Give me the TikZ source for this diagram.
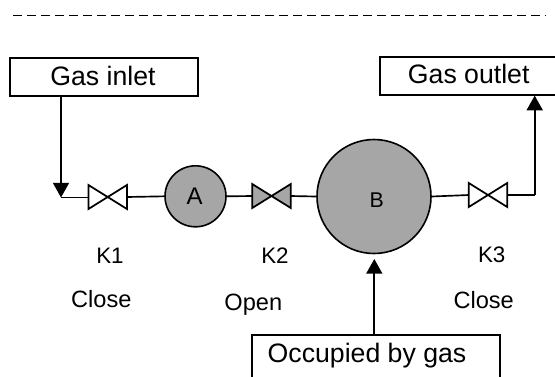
\documentclass[tikz,border=0pt]{standalone}
\usepackage{fontspec}
\setmainfont{Liberation Sans}
\usetikzlibrary{arrows.meta}
\definecolor{fillgray}{HTML}{A6A6A6}
\tikzset{
  x=0.75pt,y=-0.75pt,
  tagbox/.style={draw=black,line width=1.2pt,fill=white,inner sep=0pt,anchor=north west},
  vessel/.style={circle,draw=black,line width=1.2pt,fill=fillgray,inner sep=0pt},
  lab/.style={inner sep=0pt,anchor=base,text=black},
  biglab/.style={lab,font=\fontsize{20}{24}\selectfont},
  keylab/.style={lab,font=\fontsize{16.8}{20}\selectfont},
  statelab/.style={lab,font=\fontsize{17.7}{21}\selectfont},
  valvebox/.style={minimum width=28.9pt,minimum height=18pt,inner sep=0pt,outer sep=0pt},
  valvepart/.style={draw=black,line width=1.3pt,line join=miter},
  pipe/.style={draw=black,line width=1.25pt},
  tip/.style={-{Triangle[length=11pt,width=12pt]}}
}
\begin{document}
\begin{tikzpicture}
\useasboundingbox (0,0) rectangle (555,376);
\clip (0,0) rectangle (555,376);
\coordinate (ds) at (13.3,15.4);
\coordinate (de) at (546,15.4);
\draw[line width=1pt,dash pattern=on 6.2pt off 4.3pt] (ds) -- (de);
\node[tagbox,minimum width=141.3pt,minimum height=28.5pt] (inlet) at (9,57.2) {};
\node[biglab] (inlettext) at (103,85) {Gas inlet};
\node[tagbox,minimum width=134.5pt,minimum height=28.5pt] (outlet) at (379,56) {};
\node[biglab] (outlettext) at (468.7,83.3) {Gas outlet};
\node[tagbox,minimum width=186pt,minimum height=42pt] (occ) at (251,334) {};
\node[biglab] (occtext) at (367,362.7) {Occupied by gas};
\node[vessel,minimum size=45.75pt] (A) at (195.5,196.3) {};
\node[lab,font=\fontsize{18}{21}\selectfont] (Atext) at (194.7,204) {A};
\node[vessel,minimum size=85.5pt] (B) at (374,196.5) {};
\node[lab,font=\fontsize{16}{19}\selectfont] (Btext) at (376.7,207.3) {B};
\node[valvebox] (v1) at (107.7,197) {};
\node[valvebox] (v2) at (271.5,196) {};
\node[valvebox] (v3) at (488,195) {};
\coordinate (j1) at (61,197.5);
\coordinate (j3) at (534.7,195);
\foreach \v/\c in {v1/white,v2/fillgray,v3/white}
  \draw[valvepart,fill=\c] (\v.north west) -- (\v.south east) -- (\v.north east) -- (\v.south west) -- cycle;
\draw[pipe,tip] (inlet.south -| j1) -- (j1);
\draw[pipe] (j1) -- (v1.west |- j1);
\draw[pipe] (v1.east) -- (A.west);
\draw[pipe] (A.east) -- (v2.west);
\draw[pipe] (v2.east) -- (B.west);
\draw[pipe] (B.east) -- (v3.west);
\draw[pipe] (v3.east) -- (j3);
\draw[pipe,tip] (j3) -- (outlet.south -| j3);
\coordinate (bt) at (374.3,259);
\draw[pipe,tip] (occ.north -| bt) -- (bt);
\node[keylab] (k1) at (110,263.3) {K1};
\node[keylab] (k2) at (275,263.3) {K2};
\node[keylab] (k3) at (491.7,262) {K3};
\node[statelab] (s1) at (101.3,307) {Close};
\node[statelab] (s2) at (253.3,310.7) {Open};
\node[statelab] (s3) at (483.7,308) {Close};
\end{tikzpicture}
\end{document}
